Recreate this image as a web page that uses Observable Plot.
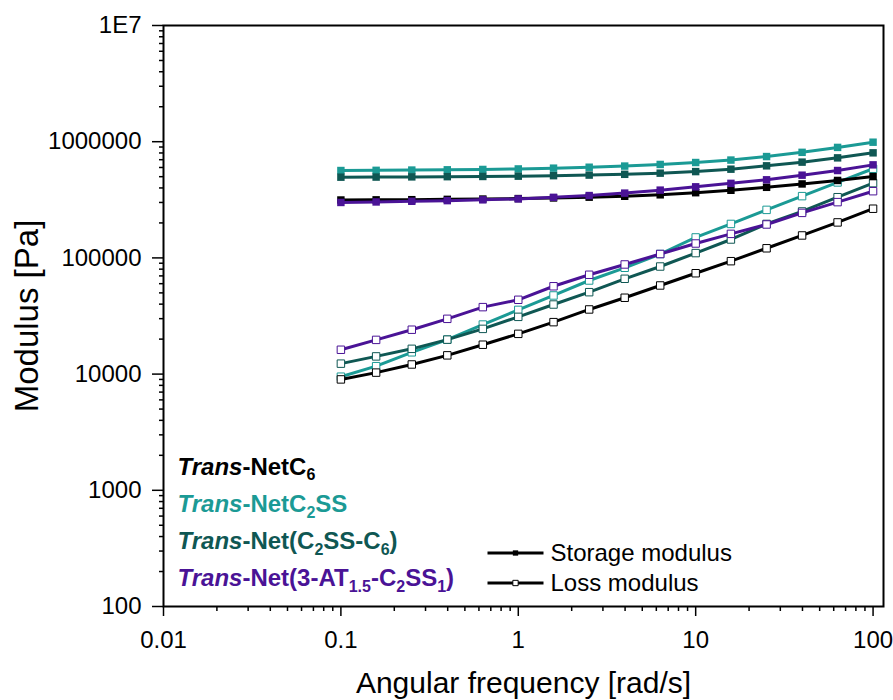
<!DOCTYPE html>
<html><head><meta charset="utf-8">
<script src="https://cdn.jsdelivr.net/npm/d3@7"></script>
<script src="https://cdn.jsdelivr.net/npm/@observablehq/plot@0.6"></script>
<style>body{margin:0;background:#fff} svg{display:block}</style>
</head><body><div id="chart"></div>
<script>
// ---- data ----
const freq = [0.1, 0.158, 0.251, 0.398, 0.631, 1, 1.58, 2.51, 3.98, 6.31, 10, 15.8, 25.1, 39.8, 63.1, 100];

const seriesKeys = ["C6", "C2SS", "C2SS-C6", "3-AT"];
const seriesLabels = ["*Trans*-NetC_{6}", "*Trans*-NetC_{2}SS", "*Trans*-Net(C_{2}SS-C_{6})", "*Trans*-Net(3-AT_{1.5}-C_{2}SS_{1})"];
const seriesColors = ["#000000", "#1b9a95", "#0f5753", "#4a1396"];

const storageC6    = [315e3, 316e3, 317e3, 319e3, 321e3, 324e3, 328e3, 333e3, 339e3, 349e3, 364e3, 382e3, 405e3, 433e3, 464e3, 501e3];
const storageC2SS  = [565e3, 567e3, 570e3, 573e3, 577e3, 583e3, 592e3, 603e3, 617e3, 637e3, 662e3, 695e3, 745e3, 810e3, 893e3, 990e3];
const storageMix   = [495e3, 496e3, 498e3, 500e3, 502e3, 505e3, 510e3, 516e3, 524e3, 536e3, 553e3, 580e3, 620e3, 667e3, 726e3, 802e3];
const storageAT    = [300e3, 303e3, 307e3, 311e3, 316e3, 322e3, 332e3, 344e3, 361e3, 383e3, 409e3, 438e3, 470e3, 515e3, 565e3, 632e3];

const lossC6   = [9.0e3, 10.3e3, 12.1e3, 14.5e3, 17.9e3, 22.2e3, 28.0e3, 36.0e3, 45.4e3, 57.9e3, 73.8e3, 93.7e3, 121e3, 156e3, 202e3, 265e3];
const lossC2SS = [9.5e3, 11.7e3, 15.4e3, 19.8e3, 26.7e3, 35.7e3, 47.5e3, 63.9e3, 82.2e3, 108e3, 150e3, 196e3, 259e3, 340e3, 446e3, 585e3];
const lossMix  = [12.3e3, 14.2e3, 16.5e3, 19.8e3, 24.5e3, 31.1e3, 39.7e3, 50.7e3, 66.1e3, 84.3e3, 110e3, 144e3, 196e3, 251e3, 333e3, 440e3];
const lossAT   = [16.2e3, 19.7e3, 24.1e3, 29.9e3, 37.7e3, 43.6e3, 57.0e3, 71.6e3, 87.8e3, 108e3, 133e3, 161e3, 194e3, 244e3, 302e3, 375e3];

const yTicks = [100, 1e3, 1e4, 1e5, 1e6, 1e7];
const yTickLabels = ["100", "1000", "10000", "100000", "1000000", "1E7"];
const xTicks = [0.01, 0.1, 1, 10, 100];
const xTickLabels = ["0.01", "0.1", "1", "10", "100"];
const modulusLabels = ["Storage modulus", "Loss modulus"];
const xTitle = "Angular frequency [rad/s]";
const yTitle = "Modulus [Pa]";

// ---- build ----
const storage = [storageC6, storageC2SS, storageMix, storageAT];
const loss = [lossC6, lossC2SS, lossMix, lossAT];
const drawOrder = [1, 2, 0, 3];

function minors(lo, hi) {
  const out = [];
  for (let e = lo; e < hi; e++) for (let k = 2; k <= 9; k++) out.push(k * Math.pow(10, e));
  return out;
}
const xMinor = minors(-2, 2);
const yMinor = minors(2, 7);

const marks = [];
for (const i of drawOrder) {
  const s = freq.map((f, j) => ({f, v: storage[i][j]}));
  const l = freq.map((f, j) => ({f, v: loss[i][j]}));
  marks.push(Plot.line(l, {x: "f", y: "v", stroke: seriesColors[i], strokeWidth: 3}));
  marks.push(Plot.dot(l, {x: "f", y: "v", symbol: "square", r: 4.2, fill: "white", stroke: seriesColors[i], strokeWidth: 1}));
  marks.push(Plot.line(s, {x: "f", y: "v", stroke: seriesColors[i], strokeWidth: 3}));
  marks.push(Plot.dot(s, {x: "f", y: "v", symbol: "square", r: 4.2, fill: seriesColors[i], stroke: "none"}));
}

const lineSym = {draw(ctx) { ctx.moveTo(-28, 0); ctx.lineTo(28, 0); }};

// series labels
const labelDy = [-132, -94.5, -57.5, -20.5];
seriesLabels.forEach((t, i) => {
  marks.push(Plot.text([t], {text: d => d, frameAnchor: "bottom-left", dx: 14, dy: labelDy[i], lineAnchor: "bottom", textAnchor: "start", fill: seriesColors[i], fontSize: 24, fontWeight: "bold"}));
});

// storage/loss legend
const legDy = [-53.5, -23.5];
modulusLabels.forEach((t, i) => {
  marks.push(Plot.dot([t], {frameAnchor: "bottom-left", dx: 352, dy: legDy[i], symbol: lineSym, r: 1, stroke: "black", strokeWidth: 3, fill: "none"}));
  marks.push(Plot.dot([t], {frameAnchor: "bottom-left", dx: 352, dy: legDy[i], symbol: "square", r: 3, fill: i === 0 ? "black" : "white", stroke: i === 0 ? "none" : "black", strokeWidth: 1}));
  marks.push(Plot.text([t], {text: d => d, frameAnchor: "bottom-left", dx: 387, dy: legDy[i] + 8, lineAnchor: "bottom", textAnchor: "start", fill: "black", fontSize: 24}));
});

const chart = Plot.plot({
  width: 893,
  height: 700,
  marginLeft: 163,
  marginRight: 10,
  marginTop: 25,
  marginBottom: 94,
  style: {fontFamily: "'Liberation Sans', Arial, sans-serif", background: "white", overflow: "visible"},
  x: {type: "log", domain: [0.01, 114.5]},
  y: {type: "log", domain: [100, 1e7]},
  marks: [
    Plot.axisX(xTicks, {anchor: "bottom", tickSize: 10, tickPadding: 14, strokeWidth: 1.5, fontSize: 24, tickFormat: d => xTickLabels[xTicks.indexOf(d)], label: null}),
    Plot.axisX(xMinor, {anchor: "bottom", tickSize: 5, strokeWidth: 1.5, tickFormat: () => "", label: null}),
    Plot.axisY(yTicks, {anchor: "left", tickSize: 11, tickPadding: 11, strokeWidth: 1.5, fontSize: 24, tickFormat: d => yTickLabels[yTicks.indexOf(d)], label: null}),
    Plot.axisY(yMinor, {anchor: "left", tickSize: 4, strokeWidth: 1.5, tickFormat: () => "", label: null}),
    ...marks,
    Plot.frame({stroke: "black", strokeWidth: 2}),
    Plot.text([yTitle], {text: d => d, frameAnchor: "left", textAnchor: "middle", dx: -136, rotate: -90, fontSize: 33, fill: "black"}),
    Plot.text([xTitle], {text: d => d, frameAnchor: "bottom", dy: 86, lineAnchor: "bottom", fontSize: 30, fill: "black"})
  ]
});

// rich text: *italic* and _{subscript}
const NS = "http://www.w3.org/2000/svg";
chart.querySelectorAll("text").forEach(el => {
  const s = el.textContent;
  if (!/\*|_\{/.test(s)) return;
  el.textContent = "";
  const re = /\*([^*]+)\*|_\{([^}]+)\}|([^*_]+)/g;
  let m, off = 0;
  while ((m = re.exec(s))) {
    const ts = document.createElementNS(NS, "tspan");
    let target = 0;
    if (m[1] !== undefined) { ts.textContent = m[1]; ts.setAttribute("font-style", "italic"); }
    else if (m[2] !== undefined) { ts.textContent = m[2]; ts.setAttribute("font-size", "16"); target = 5.5; }
    else { ts.textContent = m[3]; }
    if (target !== off) { ts.setAttribute("dy", String(target - off)); off = target; }
    el.appendChild(ts);
  }
});

document.getElementById("chart").appendChild(chart);
</script>
</body></html>
